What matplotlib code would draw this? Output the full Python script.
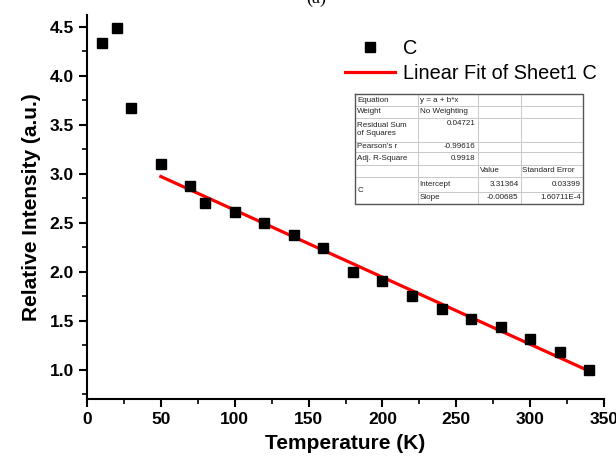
import matplotlib
matplotlib.use("Agg")
import matplotlib.pyplot as plt
import numpy as np
from matplotlib.ticker import MultipleLocator

plt.rcParams['font.family'] = ['Liberation Sans', 'DejaVu Sans']

# measured points
temp = [10, 20, 30, 50, 70, 80, 100, 120, 140, 160, 180, 200, 220, 240, 260, 280, 300, 320, 340]
inten = [4.33, 4.49, 3.67, 3.10, 2.875, 2.70, 2.61, 2.50, 2.37, 2.245, 2.00, 1.90, 1.75,
         1.62, 1.515, 1.44, 1.31, 1.175, 1.00]

# linear fit (from the inset table)
fit_a = 3.31364
fit_b = -0.00685
fit_x = [50, 340]

table_rows = [
    ["Equation", "y = a + b*x", "", ""],
    ["Weight", "No Weighting", "", ""],
    ["Residual Sum\nof Squares", "0.04721", "", ""],
    ["Pearson's r", "-0.99616", "", ""],
    ["Adj. R-Square", "0.9918", "", ""],
    ["", "", "Value", "Standard Error"],
    ["C", "Intercept", "3.31364", "0.03399"],
    ["", "Slope", "-0.00685", "1.60711E-4"],
]

W, H = 616, 459
fig = plt.figure(figsize=(W / 100, H / 100), dpi=100)
ax = fig.add_axes([87 / W, 1 - 399 / H, 517 / W, 384 / H])

ax.plot(temp, inten, 's', color='black', ms=7.5, label='C', zorder=3)
fx = np.array(fit_x, dtype=float)
ax.plot(fx, fit_a + fit_b * fx, '-', color='#ff0000', lw=2.3, label='Linear Fit of Sheet1 C', zorder=2)

ax.set_xlim(0, 350)
ax.set_ylim(0.70, 4.62)
ax.xaxis.set_major_locator(MultipleLocator(50))
ax.xaxis.set_minor_locator(MultipleLocator(25))
ax.yaxis.set_minor_locator(MultipleLocator(0.25))
ax.set_yticks([1.0, 1.5, 2.0, 2.5, 3.0, 3.5, 4.0, 4.5])
ax.yaxis.set_major_formatter(plt.FuncFormatter(lambda v, p: f"{v:.1f}"))

for s in ['top', 'right']:
    ax.spines[s].set_visible(False)
for s in ['left', 'bottom']:
    ax.spines[s].set_linewidth(1.5)
ax.tick_params(which='major', direction='out', length=6, width=1.5, labelsize=12.5)
ax.tick_params(which='minor', direction='out', length=3.5, width=1.2)
for lab in ax.get_xticklabels() + ax.get_yticklabels():
    lab.set_fontweight('bold')

ax.set_xlabel('Temperature (K)', fontsize=15, fontweight='bold', labelpad=5)
ax.set_ylabel('Relative Intensity (a.u.)', fontsize=15, fontweight='bold', labelpad=6)

ax.legend(loc='upper left', bbox_to_anchor=(250 / 517, 1 - 16 / 384), frameon=False,
          fontsize=14.3, handlelength=2.5, handletextpad=0.4, labelspacing=0.3,
          borderaxespad=0.0)

# title (cut off at the top edge, as in the source figure)
fig.text(316 / W, 1 - 7 / H, '(a)', family='Liberation Serif', fontsize=13, ha='center', va='bottom')

# fit results inset table, drawn in pixel coordinates
tx = fig.add_axes([0, 0, 1, 1])
tx.set_xlim(0, W)
tx.set_ylim(H, 0)
tx.axis('off')
cols = [355.3, 417.7, 477.7, 520.5, 582.7]
rows = [94.3, 106, 117.7, 141.7, 151.7, 165, 176.7, 191.7, 204]
tx.fill_between([cols[0], cols[-1]], rows[0], rows[-1], color='white', zorder=1)
grid_c = '#c8c8c8'
for y in rows[1:-1]:
    x0 = cols[1] if y == rows[7] else cols[0]
    tx.plot([x0, cols[-1]], [y, y], color=grid_c, lw=0.7, zorder=2)
for x in cols[1:-1]:
    tx.plot([x, x], [rows[0], rows[-1]], color=grid_c, lw=0.7, zorder=2)
tx.plot([cols[0], cols[-1], cols[-1], cols[0], cols[0]],
        [rows[0], rows[0], rows[-1], rows[-1], rows[0]], color='#555555', lw=1.0, zorder=3)

right_cells = {(2, 1), (3, 1), (4, 1), (6, 2), (6, 3), (7, 2), (7, 3)}
for i, row in enumerate(table_rows):
    for j, txt in enumerate(row):
        if not txt:
            continue
        y = (rows[i] + rows[i + 1]) / 2
        if i == 6 and j == 0:
            y = (rows[6] + rows[8]) / 2
        va = 'center'
        if i == 2 and j == 1:
            y = rows[2] + 2
            va = 'top'
        if (i, j) in right_cells:
            tx.text(cols[j + 1] - 2, y, txt, fontsize=5.8, ha='right', va=va, color='#222222', zorder=4)
        else:
            tx.text(cols[j] + 2, y, txt, fontsize=5.8, ha='left', va=va, color='#222222',
                    linespacing=1.1, zorder=4)

fig.savefig('out.png', dpi=100, facecolor='white')
